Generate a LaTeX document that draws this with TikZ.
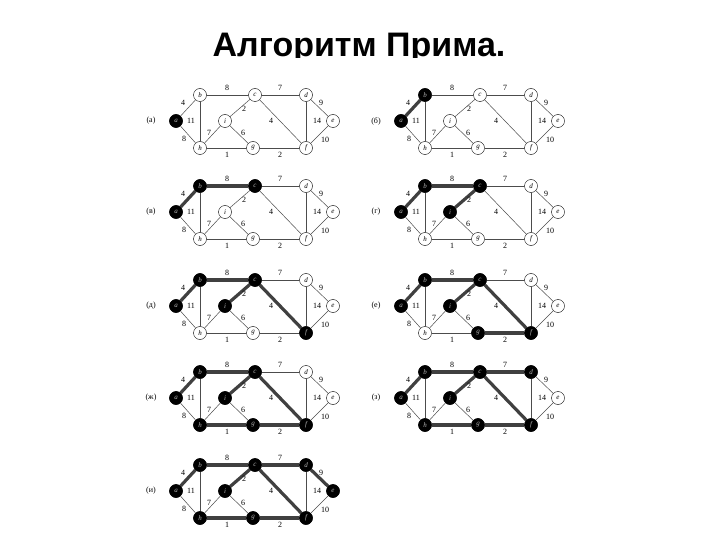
\documentclass[tikz,border=0pt]{standalone}
\usepackage{fontspec}
\setmainfont{Liberation Serif}
\newfontfamily\titlefont{Liberation Sans}
\tikzset{
 vtx/.style={circle,draw,thin,fill=white,minimum size=13pt,inner sep=0pt,font=\fontsize{7}{7}\selectfont\itshape},
 blk/.style={vtx,fill=black,text=white!70!black},
 thin edge/.style={draw=black!70,line width=0.5pt},
 tree/.style={draw=black!75,line width=3.2pt},
 wl/.style={font=\fontsize{8}{8}\selectfont}
}
\newcommand\panelg[6]{%
\begin{scope}[shift={(#2,#3)}]
 \node[wl] (#1lab) at (151,121) {(#4)};
 \node[vtx] (#1a) at (176,121) {a};
 \node[vtx] (#1b) at (200,95) {b};
 \node[vtx] (#1c) at (255,95) {c};
 \node[vtx] (#1d) at (306,95) {d};
 \node[vtx] (#1e) at (333,121) {e};
 \node[vtx] (#1f) at (306,148) {f};
 \node[vtx] (#1g) at (253,148) {g};
 \node[vtx] (#1h) at (200,148) {h};
 \node[vtx] (#1i) at (225,121) {i};
 \foreach \u/\v in {a/b,a/h,b/c,b/h,c/d,c/i,c/f,d/e,d/f,e/f,f/g,g/h,g/i,h/i}
   \draw[thin edge] (#1\u) -- (#1\v);
 \foreach \u/\v in {#6}
   \draw[tree] (#1\u) -- (#1\v);
 \foreach \v in {#5}
   \node[blk] at (#1\v) {\v};
 \node[wl] (#1w1) at (183,103) {4};
 \node[wl] (#1w2) at (184,139) {8};
 \node[wl] (#1w3) at (227,88) {8};
 \node[wl] (#1w4) at (191,121) {11};
 \node[wl] (#1w5) at (280,88) {7};
 \node[wl] (#1w6) at (244,109) {2};
 \node[wl] (#1w7) at (271,121) {4};
 \node[wl] (#1w8) at (321,103) {9};
 \node[wl] (#1w9) at (317,121) {14};
 \node[wl] (#1w10) at (325,140) {10};
 \node[wl] (#1w11) at (280,155) {2};
 \node[wl] (#1w12) at (227,155) {1};
 \node[wl] (#1w13) at (243,133) {6};
 \node[wl] (#1w14) at (209,133) {7};
\end{scope}}
\begin{document}
\begin{tikzpicture}[x=1pt,y=-1pt]
\useasboundingbox (0,0) rectangle (720,540);
\fill[white] (0,0) rectangle (720,540);
\node[font=\titlefont\bfseries\fontsize{34}{34}\selectfont] (title) at (359,48) {Алгоритм Прима.};
\fill[white] (143,58) rectangle (567,538);
\panelg{p1}{0}{0}{а}{a}{}
\panelg{p2}{225}{0}{б}{a,b}{a/b}
\panelg{p3}{0}{91}{в}{a,b,c}{a/b,b/c}
\panelg{p4}{225}{91}{г}{a,b,c,i}{a/b,b/c,c/i}
\panelg{p5}{0}{185}{д}{a,b,c,i,f}{a/b,b/c,c/i,c/f}
\panelg{p6}{225}{185}{е}{a,b,c,i,f,g}{a/b,b/c,c/i,c/f,f/g}
\panelg{p7}{0}{277}{ж}{a,b,c,i,f,g,h}{a/b,b/c,c/i,c/f,f/g,g/h}
\panelg{p8}{225}{277}{з}{a,b,c,i,f,g,h,d}{a/b,b/c,c/i,c/f,f/g,g/h,c/d}
\panelg{p9}{0}{370}{и}{a,b,c,i,f,g,h,d,e}{a/b,b/c,c/i,c/f,f/g,g/h,c/d,d/e}
\end{tikzpicture}
\end{document}
